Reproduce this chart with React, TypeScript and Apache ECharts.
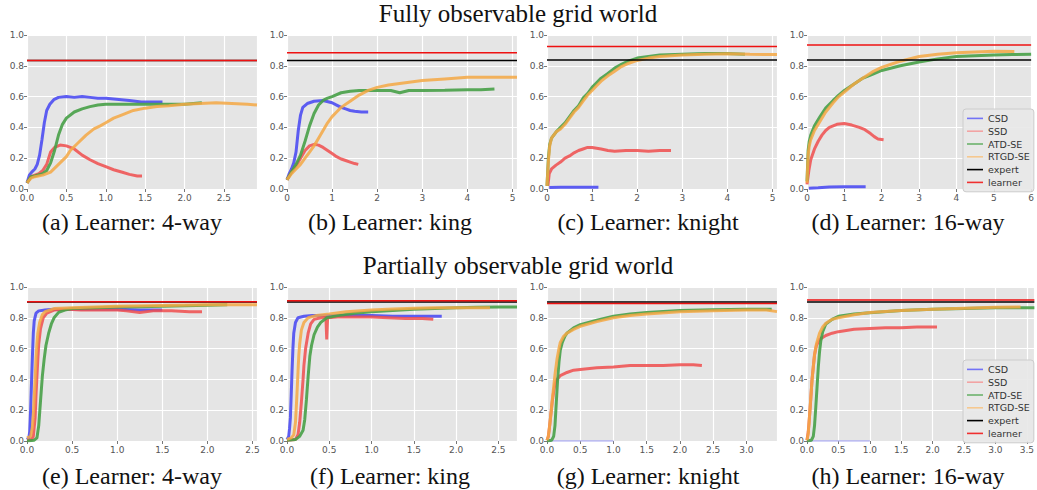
import React, { useEffect, useRef } from "react";
import * as echarts from "echarts";

// ---------- data (x in training units, y = success rate) ----------
const seriesNames = ["CSD", "SSD", "ATD-SE", "RTGD-SE", "expert", "learner"];

const a_CSD = [[0,0.04],[0.03,0.09],[0.06,0.11],[0.1,0.13],[0.13,0.16],[0.16,0.22],[0.19,0.32],[0.22,0.43],[0.25,0.51],[0.29,0.55],[0.34,0.58],[0.4,0.595],[0.5,0.6],[0.6,0.595],[0.7,0.6],[0.8,0.595],[0.9,0.59],[1.0,0.59],[1.1,0.585],[1.2,0.58],[1.3,0.575],[1.45,0.565],[1.6,0.565],[1.72,0.565]];
const a_SSD = [[0,0.04],[0.05,0.08],[0.1,0.09],[0.15,0.1],[0.2,0.12],[0.25,0.16],[0.3,0.24],[0.35,0.27],[0.42,0.285],[0.5,0.28],[0.6,0.26],[0.7,0.22],[0.8,0.19],[0.9,0.165],[1.0,0.145],[1.1,0.125],[1.2,0.11],[1.3,0.095],[1.4,0.085],[1.46,0.085]];
const a_ATD = [[0,0.04],[0.05,0.08],[0.1,0.085],[0.2,0.1],[0.25,0.12],[0.3,0.17],[0.35,0.25],[0.4,0.35],[0.45,0.42],[0.5,0.46],[0.6,0.5],[0.7,0.52],[0.8,0.535],[0.9,0.545],[1.0,0.55],[1.2,0.55],[1.4,0.55],[1.6,0.55],[1.8,0.55],[2.0,0.55],[2.22,0.56]];
const a_RTGD = [[0,0.04],[0.05,0.07],[0.1,0.08],[0.2,0.09],[0.3,0.11],[0.4,0.16],[0.5,0.21],[0.55,0.25],[0.65,0.3],[0.75,0.35],[0.85,0.39],[0.93,0.41],[1.0,0.43],[1.1,0.46],[1.2,0.48],[1.35,0.51],[1.5,0.525],[1.65,0.535],[1.8,0.54],[2.0,0.55],[2.2,0.555],[2.4,0.56],[2.6,0.555],[2.8,0.55],[2.92,0.545]];

const b_CSD = [[0,0.06],[0.05,0.1],[0.1,0.13],[0.15,0.17],[0.2,0.24],[0.25,0.38],[0.3,0.48],[0.35,0.53],[0.45,0.555],[0.6,0.57],[0.8,0.575],[1.0,0.56],[1.1,0.545],[1.2,0.53],[1.3,0.52],[1.4,0.51],[1.5,0.505],[1.65,0.5],[1.8,0.5]];
const b_SSD = [[0,0.06],[0.1,0.11],[0.2,0.15],[0.3,0.2],[0.4,0.25],[0.5,0.28],[0.6,0.29],[0.7,0.285],[0.8,0.27],[0.9,0.25],[1.0,0.23],[1.1,0.21],[1.2,0.195],[1.3,0.185],[1.4,0.175],[1.5,0.165],[1.58,0.16]];
const b_ATD = [[0,0.06],[0.1,0.11],[0.2,0.16],[0.3,0.22],[0.4,0.31],[0.5,0.41],[0.6,0.49],[0.7,0.545],[0.8,0.575],[0.9,0.59],[1.0,0.6],[1.2,0.625],[1.4,0.635],[1.6,0.64],[2.0,0.64],[2.3,0.64],[2.5,0.625],[2.7,0.64],[3.0,0.64],[3.5,0.642],[4.0,0.645],[4.3,0.645],[4.6,0.65]];
const b_RTGD = [[0,0.06],[0.1,0.1],[0.2,0.13],[0.3,0.16],[0.4,0.2],[0.5,0.24],[0.6,0.28],[0.7,0.33],[0.8,0.38],[0.9,0.43],[1.0,0.47],[1.1,0.5],[1.2,0.53],[1.4,0.57],[1.6,0.61],[1.8,0.64],[2.0,0.66],[2.25,0.675],[2.5,0.685],[2.75,0.695],[3.0,0.705],[3.5,0.715],[4.0,0.725],[4.5,0.725],[5.1,0.725]];

const c_CSD = [[0.05,0.01],[0.3,0.012],[0.6,0.012],[0.9,0.012],[1.14,0.012]];
const c_SSD = [[0.02,0.02],[0.05,0.1],[0.1,0.13],[0.2,0.155],[0.3,0.175],[0.4,0.2],[0.5,0.215],[0.6,0.235],[0.7,0.25],[0.8,0.26],[0.9,0.27],[1.0,0.27],[1.1,0.265],[1.2,0.26],[1.35,0.25],[1.5,0.245],[1.75,0.25],[2.0,0.25],[2.25,0.245],[2.5,0.25],[2.75,0.25]];
const c_ATD = [[0,0.02],[0.03,0.2],[0.06,0.29],[0.1,0.33],[0.2,0.37],[0.3,0.4],[0.4,0.43],[0.5,0.47],[0.6,0.51],[0.7,0.54],[0.8,0.59],[0.9,0.62],[1.0,0.66],[1.1,0.69],[1.2,0.72],[1.35,0.75],[1.5,0.785],[1.65,0.81],[1.8,0.83],[2.0,0.85],[2.25,0.86],[2.5,0.87],[3.0,0.875],[3.5,0.88],[4.0,0.88],[4.39,0.875]];
const c_RTGD = [[0,0.02],[0.03,0.18],[0.06,0.28],[0.1,0.33],[0.2,0.37],[0.3,0.39],[0.4,0.42],[0.5,0.46],[0.6,0.5],[0.7,0.53],[0.8,0.57],[0.9,0.61],[1.0,0.64],[1.1,0.67],[1.2,0.7],[1.35,0.735],[1.5,0.765],[1.65,0.795],[1.8,0.815],[2.0,0.835],[2.25,0.85],[2.5,0.86],[3.0,0.87],[3.5,0.875],[4.0,0.878],[4.5,0.875],[5.1,0.873]];

const d_CSD = [[0.05,0.005],[0.3,0.008],[0.6,0.013],[1.0,0.015],[1.3,0.015],[1.57,0.015]];
const d_SSD = [[0,0.03],[0.05,0.12],[0.1,0.19],[0.2,0.26],[0.3,0.31],[0.4,0.35],[0.5,0.38],[0.6,0.4],[0.8,0.42],[1.0,0.425],[1.2,0.415],[1.4,0.4],[1.55,0.385],[1.7,0.36],[1.8,0.34],[1.9,0.325],[2.05,0.32]];
const d_ATD = [[0,0.05],[0.03,0.25],[0.06,0.31],[0.1,0.35],[0.2,0.41],[0.35,0.47],[0.5,0.525],[0.7,0.575],[0.85,0.61],[1.0,0.64],[1.25,0.68],[1.5,0.72],[1.75,0.745],[2.0,0.77],[2.5,0.8],[3.0,0.825],[3.5,0.845],[4.0,0.86],[4.5,0.865],[5.0,0.87],[5.5,0.873],[6.0,0.875]];
const d_RTGD = [[0,0.04],[0.03,0.22],[0.06,0.28],[0.1,0.32],[0.2,0.38],[0.35,0.44],[0.5,0.5],[0.7,0.56],[0.85,0.6],[1.0,0.63],[1.25,0.68],[1.5,0.72],[1.75,0.76],[2.0,0.79],[2.25,0.81],[2.5,0.83],[3.0,0.86],[3.5,0.875],[4.0,0.885],[4.5,0.89],[5.0,0.895],[5.55,0.893]];

const e_CSD = [[0,0.01],[0.02,0.02],[0.03,0.06],[0.04,0.2],[0.05,0.38],[0.06,0.55],[0.07,0.7],[0.08,0.78],[0.1,0.83],[0.13,0.845],[0.2,0.85],[0.3,0.855],[0.5,0.855],[0.75,0.855],[1.0,0.855],[1.25,0.85],[1.5,0.85]];
const e_SSD = [[0,0.005],[0.05,0.01],[0.07,0.03],[0.09,0.15],[0.1,0.3],[0.11,0.42],[0.12,0.53],[0.13,0.63],[0.15,0.73],[0.18,0.8],[0.22,0.83],[0.3,0.85],[0.45,0.855],[0.6,0.85],[0.8,0.85],[1.0,0.85],[1.1,0.845],[1.25,0.835],[1.4,0.845],[1.6,0.845],[1.8,0.84],[1.94,0.84]];
const e_ATD = [[0,0],[0.08,0.005],[0.11,0.02],[0.13,0.1],[0.15,0.26],[0.17,0.42],[0.19,0.53],[0.21,0.62],[0.24,0.7],[0.27,0.76],[0.3,0.8],[0.35,0.835],[0.42,0.85],[0.5,0.86],[0.75,0.865],[1.0,0.87],[1.25,0.872],[1.5,0.875],[1.75,0.878],[2.0,0.882],[2.22,0.885]];
const e_RTGD = [[0,0.02],[0.04,0.03],[0.06,0.09],[0.07,0.17],[0.08,0.28],[0.09,0.4],[0.1,0.54],[0.11,0.63],[0.12,0.7],[0.14,0.77],[0.17,0.82],[0.2,0.84],[0.3,0.86],[0.5,0.865],[0.75,0.87],[1.0,0.875],[1.5,0.88],[2.0,0.885],[2.55,0.885]];

const f_CSD = [[0,0.01],[0.02,0.03],[0.03,0.08],[0.04,0.15],[0.05,0.3],[0.06,0.46],[0.07,0.6],[0.08,0.7],[0.1,0.77],[0.13,0.8],[0.2,0.81],[0.3,0.815],[0.5,0.815],[0.75,0.815],[1.0,0.815],[1.25,0.81],[1.5,0.81],[1.83,0.81]];
const f_SSD = [[0,0.005],[0.1,0.01],[0.13,0.04],[0.15,0.12],[0.17,0.25],[0.19,0.4],[0.2,0.49],[0.22,0.6],[0.25,0.7],[0.28,0.76],[0.32,0.79],[0.4,0.8],[0.46,0.805],[0.47,0.66],[0.48,0.8],[0.6,0.805],[0.8,0.805],[1.0,0.805],[1.2,0.8],[1.4,0.795],[1.6,0.795],[1.73,0.79]];
const f_ATD = [[0,0.005],[0.1,0.01],[0.15,0.03],[0.19,0.07],[0.21,0.14],[0.23,0.27],[0.25,0.42],[0.27,0.55],[0.29,0.62],[0.32,0.69],[0.36,0.74],[0.4,0.77],[0.47,0.8],[0.6,0.815],[0.8,0.83],[1.0,0.84],[1.25,0.848],[1.5,0.855],[1.75,0.86],[2.0,0.865],[2.25,0.868],[2.5,0.87],[2.72,0.87]];
const f_RTGD = [[0,0.01],[0.05,0.02],[0.08,0.04],[0.1,0.12],[0.11,0.22],[0.12,0.33],[0.13,0.45],[0.14,0.56],[0.15,0.63],[0.17,0.72],[0.2,0.77],[0.25,0.8],[0.35,0.815],[0.5,0.825],[0.7,0.84],[1.0,0.85],[1.25,0.857],[1.5,0.862],[1.75,0.865],[2.0,0.866],[2.2,0.866],[2.4,0.865]];

const g_CSD = [[0,0],[1.0,0]];
const g_SSD = [[0,0.005],[0.02,0.03],[0.04,0.1],[0.06,0.18],[0.08,0.26],[0.1,0.32],[0.12,0.37],[0.15,0.4],[0.2,0.425],[0.3,0.445],[0.4,0.46],[0.5,0.465],[0.75,0.475],[1.0,0.48],[1.25,0.49],[1.5,0.49],[1.75,0.49],[2.0,0.495],[2.2,0.495],[2.33,0.49]];
const g_ATD = [[0,0],[0.07,0.005],[0.1,0.03],[0.12,0.1],[0.14,0.25],[0.16,0.4],[0.18,0.51],[0.2,0.59],[0.23,0.64],[0.27,0.68],[0.3,0.7],[0.4,0.735],[0.5,0.755],[0.75,0.785],[1.0,0.81],[1.25,0.825],[1.5,0.835],[2.0,0.848],[2.5,0.852],[3.0,0.855],[3.38,0.855]];
const g_RTGD = [[0,0.005],[0.02,0.03],[0.04,0.1],[0.06,0.18],[0.08,0.27],[0.1,0.35],[0.12,0.43],[0.15,0.53],[0.18,0.6],[0.2,0.64],[0.25,0.68],[0.3,0.7],[0.4,0.725],[0.5,0.745],[0.75,0.775],[1.0,0.8],[1.25,0.815],[1.5,0.825],[2.0,0.84],[2.5,0.845],[3.0,0.85],[3.3,0.85],[3.46,0.84]];

const h_CSD = [[0,0],[1.0,0]];
const h_SSD = [[0,0.005],[0.02,0.06],[0.04,0.16],[0.06,0.27],[0.08,0.4],[0.1,0.48],[0.12,0.56],[0.15,0.62],[0.2,0.66],[0.3,0.685],[0.4,0.7],[0.5,0.71],[0.75,0.725],[1.0,0.73],[1.25,0.735],[1.5,0.735],[1.75,0.74],[2.0,0.74],[2.07,0.74]];
const h_ATD = [[0,0],[0.07,0.005],[0.1,0.03],[0.12,0.1],[0.14,0.22],[0.16,0.35],[0.18,0.48],[0.2,0.58],[0.22,0.65],[0.25,0.71],[0.3,0.76],[0.4,0.79],[0.5,0.81],[0.75,0.825],[1.0,0.833],[1.5,0.848],[2.0,0.856],[2.5,0.86],[3.0,0.865],[3.62,0.865]];
const h_RTGD = [[0,0.005],[0.02,0.05],[0.04,0.16],[0.06,0.28],[0.08,0.39],[0.1,0.48],[0.12,0.56],[0.15,0.63],[0.2,0.7],[0.25,0.74],[0.3,0.765],[0.4,0.79],[0.5,0.8],[0.75,0.82],[1.0,0.835],[1.5,0.848],[2.0,0.855],[2.5,0.862],[3.0,0.868],[3.4,0.87]];

// expert / learner reference levels per panel a..h
const expertLevels = [0.835, 0.835, 0.837, 0.837, 0.902, 0.903, 0.903, 0.903];
const learnerLevels = [0.835, 0.885, 0.925, 0.935, 0.905, 0.911, 0.893, 0.916];
// x-axis extents / steps per panel a..h
const xMaxes = [2.92, 5.1, 5.1, 6, 2.55, 2.72, 3.46, 3.62];
const xSteps = [0.5, 1, 1, 1, 0.5, 0.5, 0.5, 0.5];
const captions = [
  "(a) Learner: 4-way", "(b) Learner: king", "(c) Learner: knight", "(d) Learner: 16-way",
  "(e) Learner: 4-way", "(f) Learner: king", "(g) Learner: knight", "(h) Learner: 16-way",
];
const rowTitles = ["Fully observable grid world", "Partially observable grid world"];

const csdData = [a_CSD, b_CSD, c_CSD, d_CSD, e_CSD, f_CSD, g_CSD, h_CSD];
const ssdData = [a_SSD, b_SSD, c_SSD, d_SSD, e_SSD, f_SSD, g_SSD, h_SSD];
const atdData = [a_ATD, b_ATD, c_ATD, d_ATD, e_ATD, f_ATD, g_ATD, h_ATD];
const rtgdData = [a_RTGD, b_RTGD, c_RTGD, d_RTGD, e_RTGD, f_RTGD, g_RTGD, h_RTGD];

// ---------- styling ----------
const COLORS = {
  CSD: "#4c4cf2",
  SSD: "#f04e4e",
  ATD: "#47a047",
  RTGD: "#f5a844",
  expert: "#000000",
  learner: "#ee1111",
};
const LEGEND_COLORS = ["#7373f6", "#f2a3a3", "#6cb26c", "#f6c88f", "#000000", "#f03030"];

const W = 1037;
const H = 490;

export default function App() {
  const ref = useRef<HTMLDivElement>(null);

  useEffect(() => {
    if (!ref.current) return;
    const chart = echarts.init(ref.current, undefined, { renderer: "svg", width: W, height: H });

    const grids: any[] = [];
    const xAxes: any[] = [];
    const yAxes: any[] = [];
    const series: any[] = [];
    const graphics: any[] = [];

    const captionX = [132, 390, 648, 908];

    for (let i = 0; i < 8; i++) {
      const row = Math.floor(i / 4);
      const col = i % 4;
      const top = row === 0 ? 35 : 287;
      grids.push({
        left: 27 + 260 * col,
        top,
        width: 230,
        height: 154,
        show: true,
        backgroundColor: "#e5e5e5",
        borderWidth: 0,
      });
      const xMax = xMaxes[i];
      const step = xSteps[i];
      const isMultiple = Math.abs(xMax / step - Math.round(xMax / step)) < 1e-6;
      xAxes.push({
        gridIndex: i,
        type: "value",
        min: 0,
        max: xMax,
        interval: step,
        axisLine: { show: false },
        axisTick: { show: true, length: 3, lineStyle: { color: "#777", width: 1 } },
        axisLabel: {
          fontSize: 9,
          color: "#555",
          fontFamily: "DejaVu Sans",
          margin: 4,
          showMaxLabel: isMultiple,
          formatter: (v: number) => (step < 1 ? v.toFixed(1) : String(Math.round(v))),
        },
        splitLine: { show: true, lineStyle: { color: "#ffffff", width: 1.2 } },
      });
      yAxes.push({
        gridIndex: i,
        type: "value",
        min: 0,
        max: 1,
        interval: 0.2,
        axisLine: { show: false },
        axisTick: { show: true, length: 3, lineStyle: { color: "#777", width: 1 } },
        axisLabel: {
          fontSize: 9,
          color: "#555",
          fontFamily: "DejaVu Sans",
          margin: 3,
          formatter: (v: number) => v.toFixed(1),
        },
        splitLine: { show: true, lineStyle: { color: "#ffffff", width: 1.2 } },
      });

      const flatCSD = row === 1 && (i === 6 || i === 7);
      const mk = (name: string, data: number[][], color: string, width: number, opacity: number, z: number) => ({
        type: "line",
        name,
        xAxisIndex: i,
        yAxisIndex: i,
        data,
        showSymbol: false,
        symbol: "none",
        lineStyle: { color, width, opacity },
        itemStyle: { color },
        z,
        silent: true,
      });
      series.push(mk("CSD", csdData[i], flatCSD ? "#a9a9f2" : COLORS.CSD, flatCSD ? 1.5 : 3, 0.9, 2));
      series.push(mk("SSD", ssdData[i], COLORS.SSD, 3, 0.85, 3));
      series.push(mk("ATD-SE", atdData[i], COLORS.ATD, 3, 0.9, 4));
      series.push(mk("RTGD-SE", rtgdData[i], COLORS.RTGD, 3, 0.85, 5));
      series.push(mk("expert", [[0, expertLevels[i]], [xMax, expertLevels[i]]], COLORS.expert, 1.5, 1, 6));
      series.push(mk("learner", [[0, learnerLevels[i]], [xMax, learnerLevels[i]]], COLORS.learner, 1.5, 1, 7));

      graphics.push({
        type: "text",
        x: captionX[col],
        y: row === 0 ? 222 : 476,
        style: {
          text: captions[i],
          fontSize: 24,
          fontFamily: "Liberation Serif",
          fill: "#111",
          align: "center",
          verticalAlign: "middle",
        },
      });
    }

    rowTitles.forEach((t, r) => {
      graphics.push({
        type: "text",
        x: 518,
        y: r === 0 ? 13 : 265,
        style: {
          text: t,
          fontSize: 25,
          fontFamily: "Liberation Serif",
          fill: "#111",
          align: "center",
          verticalAlign: "middle",
        },
      });
    });

    const legendBase = (top: number) => ({
      orient: "vertical",
      left: 963,
      top,
      icon: "rect",
      itemWidth: 16,
      itemHeight: 1.6,
      itemGap: 2,
      padding: [4, 4, 4, 4],
      backgroundColor: "rgba(232,232,232,0.9)",
      borderColor: "#cccccc",
      borderWidth: 1,
      borderRadius: 3,
      selectedMode: false,
      textStyle: { fontSize: 9.5, color: "#333", fontFamily: "DejaVu Sans", lineHeight: 10.8 },
      data: seriesNames.map((n, k) => ({ name: n, itemStyle: { color: LEGEND_COLORS[k] } })),
    });

    chart.setOption({
      animation: false,
      backgroundColor: "#ffffff",
      grid: grids,
      xAxis: xAxes,
      yAxis: yAxes,
      series,
      legend: [legendBase(109), legendBase(360)],
      graphic: graphics,
    });

    return () => chart.dispose();
  }, []);

  return (
    <div
      ref={ref}
      style={{ position: "fixed", left: 0, top: 0, width: W, height: H, background: "#fff" }}
    />
  );
}
